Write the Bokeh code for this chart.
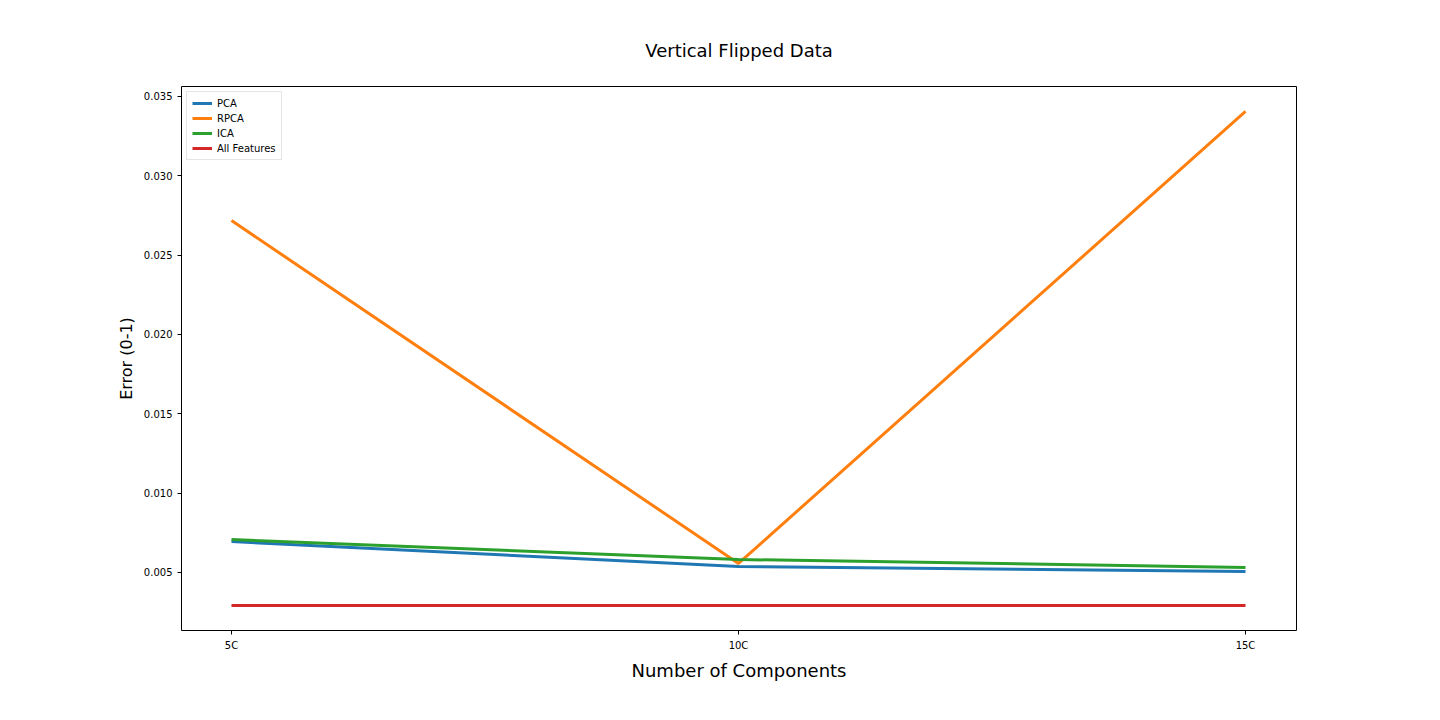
from bokeh.plotting import figure
from bokeh.embed import file_html
from bokeh.resources import INLINE
from bokeh.models import Range1d, FixedTicker, Legend, LegendItem

x_vals = [5, 10, 15]
x_labels = ["5C", "10C", "15C"]
pca = [0.00695, 0.00538, 0.00506]
rpca = [0.02718, 0.00557, 0.03406]
ica = [0.00708, 0.00582, 0.00532]
allf = [0.00292, 0.00292, 0.00292]

p = figure(width=1424, height=704, output_backend="svg", toolbar_location=None,
           x_range=Range1d(4.507, 15.503), y_range=Range1d(0.001344, 0.03563),
           min_border_left=181, min_border_right=128, min_border_top=86, min_border_bottom=74)
p.title.text = "Vertical Flipped Data"
p.title.align = "center"
p.title.text_font_size = "18px"
p.title.text_font_style = "normal"
p.title.text_font = "DejaVu Sans"
p.title.text_color = "black"
p.title.standoff = 52
p.grid.visible = False
p.outline_line_color = "black"
p.xaxis.ticker = FixedTicker(ticks=x_vals)
p.xaxis.major_label_overrides = {v: l for v, l in zip(x_vals, x_labels)}
p.yaxis.ticker = FixedTicker(ticks=[0.005, 0.010, 0.015, 0.020, 0.025, 0.030, 0.035])
p.yaxis.major_label_overrides = {v: f"{v:.3f}" for v in [0.005, 0.010, 0.015, 0.020, 0.025, 0.030, 0.035]}
for ax in (p.xaxis[0], p.yaxis[0]):
    ax.minor_tick_line_color = None
    ax.major_label_text_font_size = "10px"
    ax.major_label_text_font = "DejaVu Sans"
    ax.major_label_text_color = "black"
    ax.major_tick_line_color = "black"
    ax.axis_line_color = None
    ax.major_tick_out = 4
    ax.major_tick_in = 0
    ax.axis_label_text_font_style = "normal"
    ax.axis_label_text_font = "DejaVu Sans"
    ax.axis_label_text_color = "black"
p.xaxis.axis_label = "Number of Components"
p.yaxis.axis_label = "Error (0-1)"
p.xaxis.axis_label_text_font_size = "18px"
p.yaxis.axis_label_text_font_size = "16px"
p.xaxis.axis_label_standoff = 6

items = []
for name, ys, c in [("PCA", pca, "#1f77b4"), ("RPCA", rpca, "#ff7f0e"),
                    ("ICA", ica, "#2ca02c"), ("All Features", allf, "#d62728")]:
    r = p.line(x_vals, ys, line_color=c, line_width=3)
    items.append(LegendItem(label=name, renderers=[r]))
leg = Legend(items=items, location="top_left", label_text_font_size="10px",
             label_text_font="DejaVu Sans", label_text_color="black",
             glyph_height=12, label_height=12,
             spacing=3, padding=5, margin=5, border_line_color="#cccccc")
p.add_layout(leg)

open("out.html", "w").write(file_html(p, INLINE))
